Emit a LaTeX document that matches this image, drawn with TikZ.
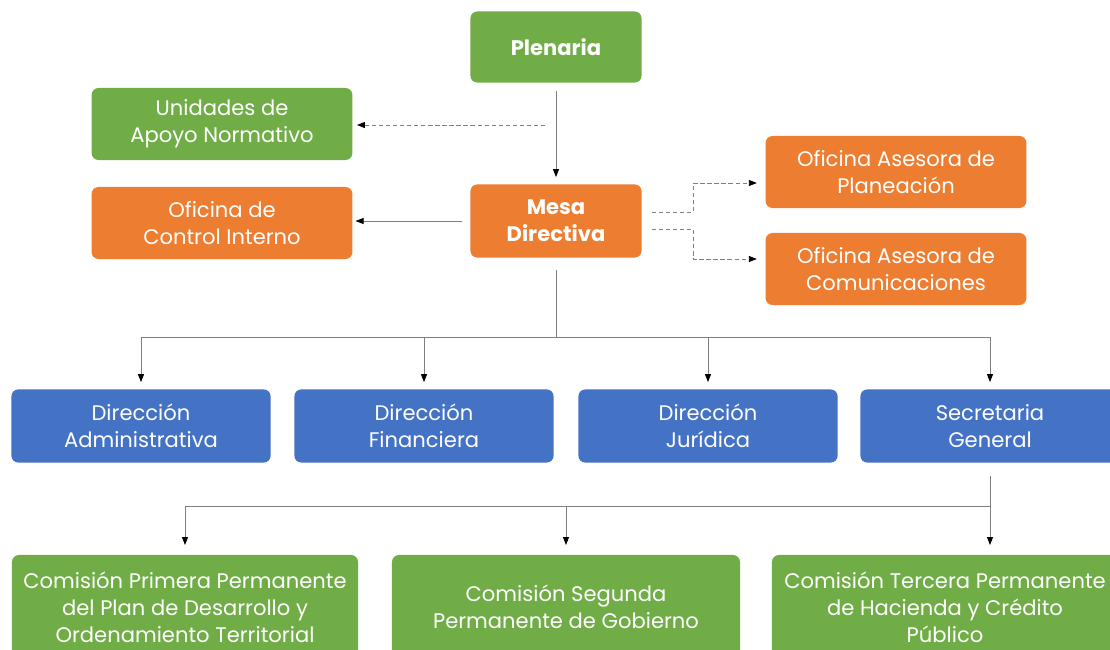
\documentclass[tikz,border=0pt]{standalone}
\usepackage{fontspec}
\setmainfont{Poppins}
\usetikzlibrary{arrows.meta}

\definecolor{boxgreen}{HTML}{70AD47}
\definecolor{boxorange}{HTML}{ED7D31}
\definecolor{boxblue}{HTML}{4472C4}
\definecolor{linegray}{HTML}{7F7F7F}

\tikzset{
  box/.style={rounded corners=5pt, text=white, align=center, inner sep=0pt,
    font=\fontsize{15}{19.2}\selectfont},
  greenbox/.style={box, fill=boxgreen},
  orangebox/.style={box, fill=boxorange},
  bluebox/.style={box, fill=boxblue, minimum width=6.48cm, minimum height=1.83cm},
  conn/.style={draw=linegray, line width=0.6pt,
    -{Triangle[length=2mm,width=1.5mm,color=black]}},
  dconn/.style={conn, dash pattern=on 3pt off 2pt},
  tree/.style={draw=linegray, line width=0.6pt}
}

\begin{document}
\begin{tikzpicture}[x=0.025cm, y=-0.025cm]

  \useasboundingbox (0,0) rectangle (1110,650);

  % top
  \node [greenbox, minimum width=4.28cm, minimum height=1.78cm, font=\fontsize{15}{19.2}\selectfont\bfseries]
    (plen) at (556,47) {Plenaria};
  \node [greenbox, minimum width=6.52cm, minimum height=1.8cm]
    (unid) at (222,124) {Unidades de\\Apoyo Normativo};
  \node [orangebox, minimum width=6.52cm, minimum height=1.8cm]
    (ctrl) at (222,223) {Oficina de\\Control Interno};
  \node [orangebox, minimum width=4.28cm, minimum height=1.83cm, font=\fontsize{15}{19.2}\selectfont\bfseries]
    (mesa) at (556,221) {Mesa\\Directiva};
  \node [orangebox, minimum width=6.52cm, minimum height=1.8cm]
    (plan) at (896,172) {Oficina Asesora de\\Planeación};
  \node [orangebox, minimum width=6.52cm, minimum height=1.8cm]
    (comu) at (896,269) {Oficina Asesora de\\Comunicaciones};

  % direcciones
  \node [bluebox] (dadm) at (141,426) {Dirección\\Administrativa};
  \node [bluebox] (dfin) at (424,426) {Dirección\\Financiera};
  \node [bluebox] (djur) at (708,426) {Dirección\\Jurídica};
  \node [bluebox] (sgen) at (990,426) {Secretaria\\General};

  % comisiones
  \node [greenbox, minimum width=8.65cm, minimum height=2.6cm]
    (com1) at (185,607) {Comisión Primera Permanente\\del Plan de Desarrollo y\\Ordenamiento Territorial};
  \node [greenbox, minimum width=8.7cm, minimum height=2.6cm]
    (com2) at (566,607) {Comisión Segunda\\Permanente de Gobierno};
  \node [greenbox, minimum width=8.65cm, minimum height=2.6cm]
    (com3) at (945,607) {Comisión Tercera Permanente\\de Hacienda y Crédito\\Público};

  % links from plenaria and mesa
  \draw [conn] ([yshift=-6]plen.south) -- ([yshift=5]mesa.north);
  \coordinate (d1) at (545,125);
  \draw [dconn] (d1) -- ([xshift=3]unid.east |- d1);
  \draw [conn] ([xshift=-6]mesa.west) -- ([xshift=2]ctrl.east |- mesa.west);
  \coordinate (r1) at (652,212);
  \coordinate (r2) at (652,229);
  \draw [dconn] (r1) -| (693,183) -- ([xshift=-6]plan.west |- 0,183);
  \draw [dconn] (r2) -| (693,259) -- ([xshift=-6]comu.west |- 0,259);

  % tree to direcciones
  \coordinate (t1) at (556,337);
  \draw [tree] ([yshift=-8.5]mesa.south) -- (t1);
  \draw [tree] (dadm.north |- t1) -- (sgen.north |- t1);
  \foreach \n in {dadm,dfin,djur,sgen}
    \draw [conn] (\n.north |- t1) -- ([yshift=5]\n.north);

  % tree to comisiones
  \coordinate (t2) at (990,506);
  \draw [tree] ([yshift=-9.5]sgen.south) -- (t2);
  \draw [tree] (185,506) -- (t2);
  \foreach \x/\n in {185/com1,566/com2,990/com3}
    \draw [conn] (\x,506) -- (\x,545);

\end{tikzpicture}
\end{document}
